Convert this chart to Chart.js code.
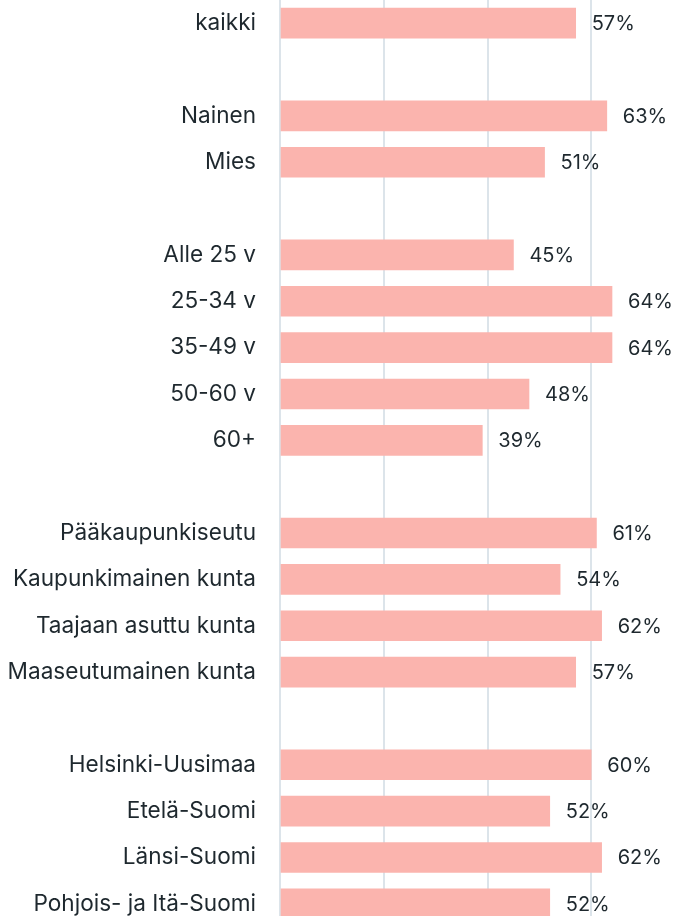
<!DOCTYPE html>
<html>
<head>
<meta charset="utf-8">
<script src="https://cdn.jsdelivr.net/npm/chart.js@4/dist/chart.umd.min.js"></script>
<style>
  html, body { margin: 0; padding: 0; background: #ffffff; }
  #wrap { width: 676px; height: 916px; overflow: hidden; position: relative; }
  #chart { display: block; }
</style>
</head>
<body>
<div id="wrap"><canvas id="chart" width="700" height="927"></canvas></div>
<script>
// Group rows; empty strings act as spacer rows between groups.
const categories = [
  'kaikki', '',
  'Nainen', 'Mies', '',
  'Alle 25 v', '25-34 v', '35-49 v', '50-60 v', '60+', '',
  'Pääkaupunkiseutu', 'Kaupunkimainen kunta', 'Taajaan asuttu kunta', 'Maaseutumainen kunta', '',
  'Helsinki-Uusimaa', 'Etelä-Suomi', 'Länsi-Suomi', 'Pohjois- ja Itä-Suomi'
];
const shares = [
  57, null,
  63, 51, null,
  45, 64, 64, 48, 39, null,
  61, 54, 62, 57, null,
  60, 52, 62, 52
];
const gridTicks = [0, 20, 40, 60, 80];

const FONT = 'Inter, "Noto Sans", sans-serif';
const TEXT = '#1e282e';

// Writes the percentage just past the end of each bar.
const valueLabels = {
  id: 'valueLabels',
  afterDatasetsDraw(chart) {
    const ctx = chart.ctx;
    const meta = chart.getDatasetMeta(0);
    ctx.save();
    ctx.font = '400 20px ' + FONT;
    ctx.fillStyle = TEXT;
    ctx.textAlign = 'left';
    ctx.textBaseline = 'middle';
    meta.data.forEach((bar, i) => {
      const v = shares[i];
      if (v === null || v === undefined) return;
      ctx.fillText(v + '%', bar.x + 16, bar.y + 1);
    });
    ctx.restore();
  }
};

new Chart(document.getElementById('chart'), {
  type: 'bar',
  data: {
    labels: categories,
    datasets: [{
      data: shares,
      backgroundColor: '#fbb4ae',
      borderWidth: 0,
      barThickness: 30
    }]
  },
  options: {
    indexAxis: 'y',
    responsive: false,
    animation: false,
    layout: { padding: { left: 0, right: 5, top: 0, bottom: 0 } },
    plugins: { legend: { display: false }, tooltip: { enabled: false } },
    scales: {
      x: {
        min: gridTicks[0],
        max: gridTicks[gridTicks.length - 1],
        afterBuildTicks(axis) { axis.ticks = gridTicks.map(v => ({ value: v })); },
        afterFit(axis) { axis.height = 0; axis.paddingLeft = 0; axis.paddingRight = 0; },
        ticks: { display: false },
        grid: { color: '#dce4ea', lineWidth: 2, drawTicks: false },
        border: { display: false }
      },
      y: {
        afterFit(axis) { axis.width = 280; axis.paddingTop = 0; axis.paddingBottom = 0; },
        ticks: {
          color: TEXT,
          padding: 24,
          font: { family: FONT, size: 22.6 }
        },
        grid: { display: false, drawTicks: false },
        border: { display: false }
      }
    }
  },
  plugins: [valueLabels]
});
</script>
</body>
</html>
